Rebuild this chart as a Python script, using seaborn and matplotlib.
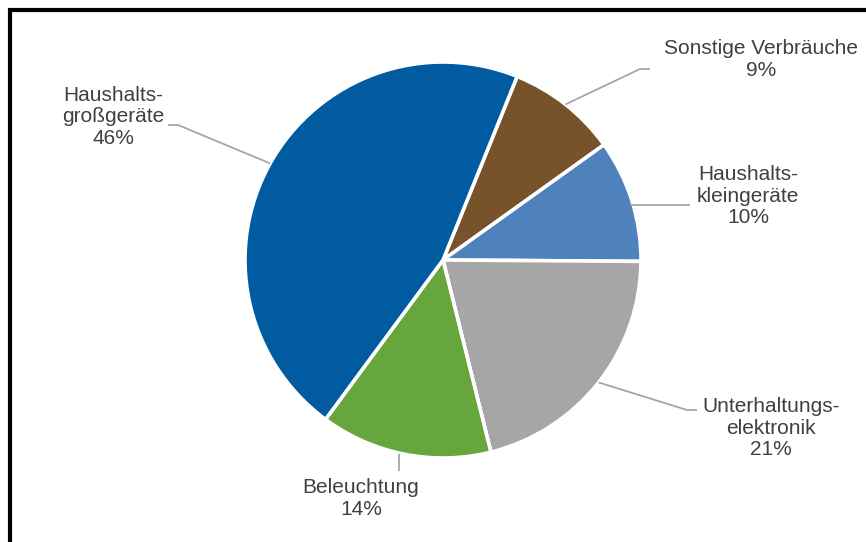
import numpy as np
import matplotlib
matplotlib.use("Agg")
import matplotlib.pyplot as plt
import seaborn as sns

# ---- data ----
categories = ["Sonstige Verbräuche", "Haushalts-\nkleingeräte", "Unterhaltungs-\nelektronik",
              "Beleuchtung", "Haushalts-\ngroßgeräte"]
values = [9, 10, 21, 14, 46]
colors = ["#77532C", "#4F81BD", "#A6A6A6", "#67A53D", "#005BA1"]

sns.set_theme(style="white")
plt.rcParams["font.family"] = ["Liberation Sans", "DejaVu Sans"]

W, H = 866, 542
fig = plt.figure(figsize=(W / 100, H / 100), dpi=100)
ax = fig.add_axes([0, 0, 1, 1])

cx, cy, R = 443, H - 260, 198
wedges, _ = ax.pie(values, colors=colors, startangle=68, counterclock=False,
                   center=(cx, cy), radius=R, frame=True,
                   wedgeprops=dict(edgecolor="white", linewidth=2.6))
ax.set_xlim(0, W)
ax.set_ylim(0, H)
ax.set_aspect("equal")
ax.axis("off")

# label layout: (elbow point, end point, text center) in pixel coords (y down)
layout = [
    ((640, 69), (650, 69), (761, 59.5)),
    ((690, 205), (690, 205), (748, 196)),
    ((687, 410), (697, 410), (771, 428)),
    ((399, 471), (399, 471), (361, 498.5)),
    ((178, 125), (168, 125), (113, 117)),
]
text_color = "#404040"
line_color = "#A6A6A6"
for w, cat, val, (elb, end, tc) in zip(wedges, categories, values, layout):
    mid = np.deg2rad((w.theta1 + w.theta2) / 2)
    sx, sy = cx + R * np.cos(mid), cy + R * np.sin(mid)
    if cat == "Beleuchtung":
        sx = elb[0]
    if cat.startswith("Haushalts-\nklein"):
        sy = H - elb[1]
        sx = cx + np.sqrt(R**2 - (sy - cy)**2) - 3
    xs = [sx, elb[0], end[0]]
    ys = [sy, H - elb[1], H - end[1]]
    ax.plot(xs, ys, color=line_color, lw=1.3, solid_capstyle="butt")
    ax.text(tc[0], H - tc[1], f"{cat}\n{val}%", ha="center", va="center",
            fontsize=15, color=text_color, linespacing=1.17)

# outer frame (partially visible)
ax.plot([10, 10, W + 5], [-5, H - 10, H - 10], color="black", lw=3,
        solid_joinstyle="miter", clip_on=False)

fig.savefig("out.png", dpi=100)
